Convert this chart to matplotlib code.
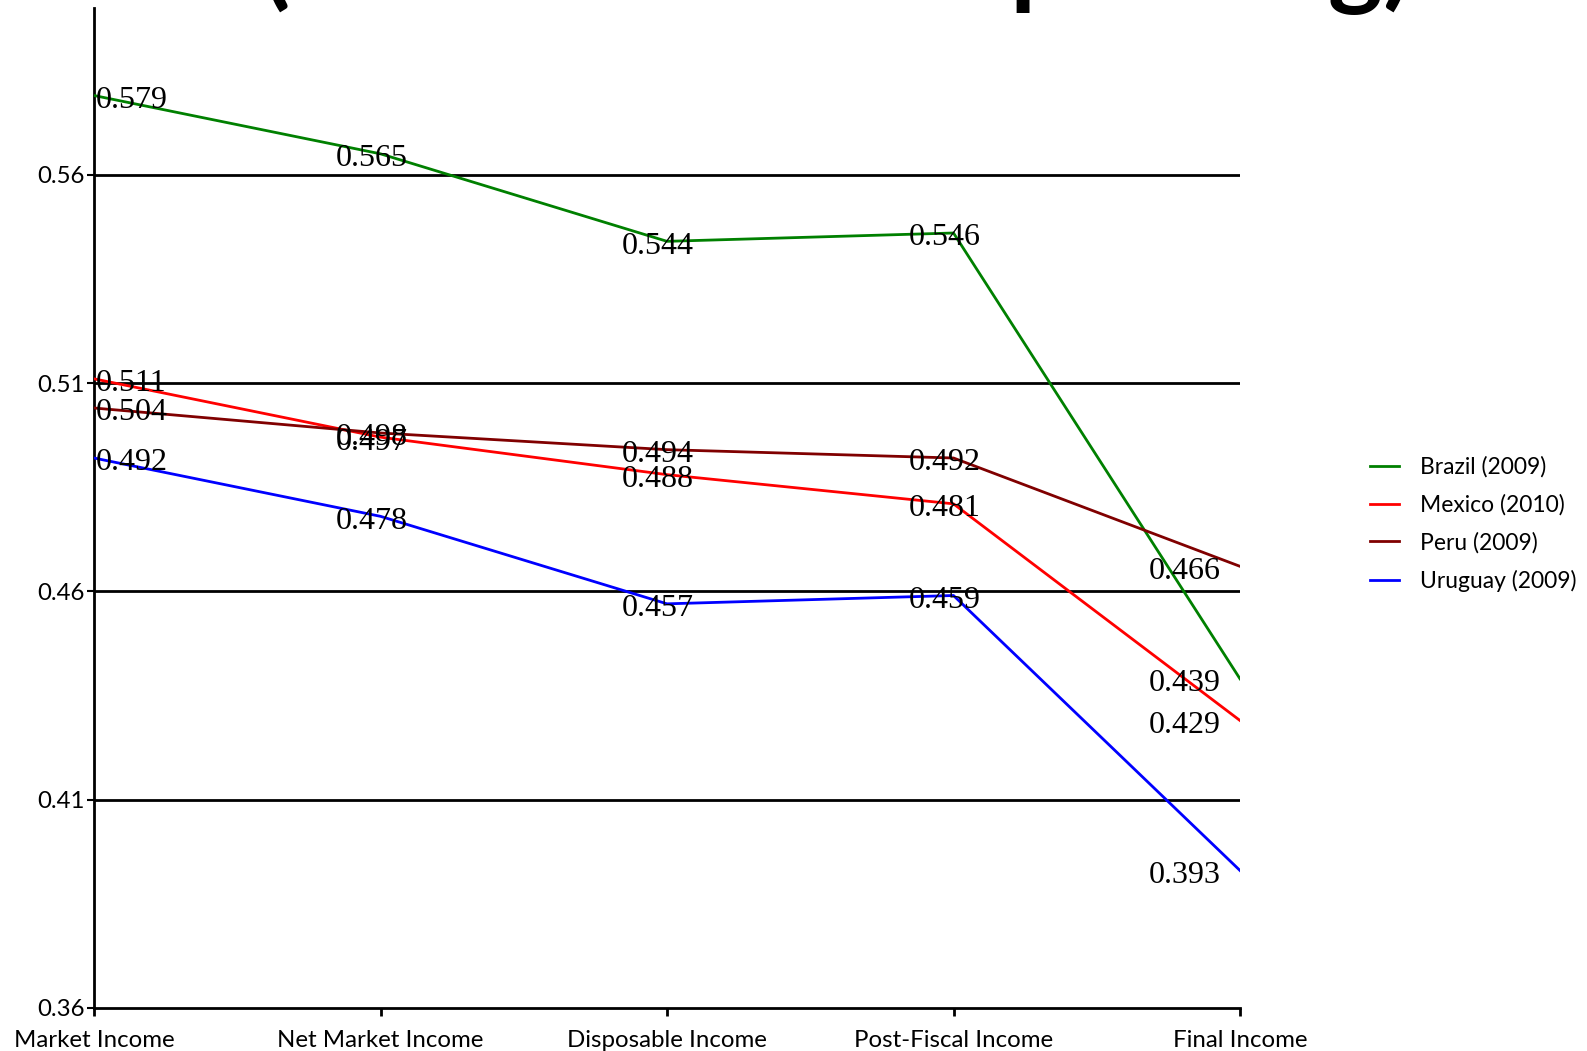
import matplotlib
matplotlib.use("Agg")
import matplotlib.pyplot as plt

# Gini coefficients by income concept
stages = ["Market Income", "Net Market Income", "Disposable Income",
          "Post-Fiscal Income", "Final Income"]
brazil = [0.579, 0.565, 0.544, 0.546, 0.439]
mexico = [0.511, 0.497, 0.488, 0.481, 0.429]
peru = [0.504, 0.498, 0.494, 0.492, 0.466]
uruguay = [0.492, 0.478, 0.457, 0.459, 0.393]

series = [
    ("Brazil (2009)", brazil, "#008000"),
    ("Mexico (2010)", mexico, "#ff0000"),
    ("Peru (2009)", peru, "#800000"),
    ("Uruguay (2009)", uruguay, "#0000ff"),
]
yticks = [0.36, 0.41, 0.46, 0.51, 0.56]

sans = ["Lato", "DejaVu Sans"]
serif = ["Liberation Serif", "DejaVu Serif"]

W, H = 1587, 1051
fig = plt.figure(figsize=(W / 100, H / 100), dpi=100)
ax = fig.add_axes([94 / W, 43 / H, (1240 - 94) / W, (1008 - 8) / H])

x = list(range(len(stages)))
for name, vals, color in series:
    ax.plot(x, vals, color=color, lw=2, label=name, zorder=3)

# value labels: keep the end labels inside the plot area
for name, vals, color in series:
    for i, v in enumerate(vals):
        if i == 0:
            ha, dx = "left", 1.5
        elif i == len(vals) - 1:
            ha, dx = "right", -14
        else:
            ha, dx = "center", -6.5
        ax.annotate(f"{v:.3f}", (i, v), xytext=(dx, -3.5), textcoords="offset points",
                    ha=ha, va="center", fontsize=23, family=serif, zorder=4)

ax.set_xlim(0, len(stages) - 1)
ax.set_ylim(0.36, 0.60)
ax.set_xticks(x)
ax.set_xticklabels(stages, family=sans, fontsize=17.3)
ax.set_yticks(yticks)
ax.set_yticklabels([f"{t:.2f}" for t in yticks], family=sans, fontsize=17.3)
ax.tick_params(axis="x", length=6, width=2, pad=10)
ax.tick_params(axis="y", length=5, width=1.5, pad=2)

for t in yticks[1:]:
    ax.axhline(t, color="black", lw=2, zorder=2)

for side in ["top", "right"]:
    ax.spines[side].set_visible(False)
for side in ["left", "bottom"]:
    ax.spines[side].set_linewidth(2)

fig.legend(loc="center left", bbox_to_anchor=(1349 / W, 1 - 524 / H), frameon=False,
           prop={"family": sans, "size": 16.5}, handlelength=1.3,
           handletextpad=0.9, labelspacing=0.71)

# slide title, mostly above the visible area
fig.text(262 / W, 1 + 4 / H, "(with all social  spending)",
         fontsize=75, fontweight="bold", family=sans, ha="left", va="baseline")

fig.savefig("out.png", dpi=100)
